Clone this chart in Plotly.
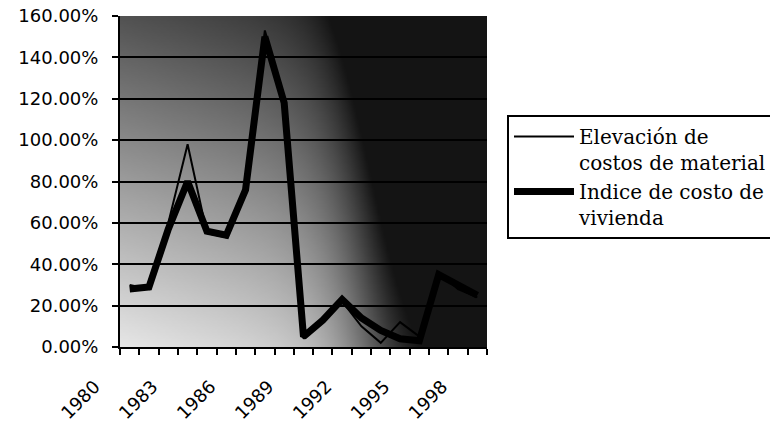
import base64
import math
import struct
import zlib

import plotly.graph_objects as go

# ---------------- data ----------------
years = list(range(1980, 1999))
tick_years = [1980, 1983, 1986, 1989, 1992, 1995, 1998]
tick_labels = [str(y) for y in tick_years]
series_names = ["Elevación de<br>costos de material", "Indice de costo de<br>vivienda"]
material = [30, 28, 60, 98, 55, 53, 78, 153, 120, 4, 14, 22, 10, 2, 12, 5, 36, 28, 24]
vivienda = [28, 29, 57, 80, 56, 54, 76, 150, 118, 5, 13, 23, 14, 8, 4, 3, 35, 30, 25]
y_ticks = [0, 20, 40, 60, 80, 100, 120, 140, 160]
y_tick_labels = ["0.00%", "20.00%", "40.00%", "60.00%", "80.00%",
                 "100.00%", "120.00%", "140.00%", "160.00%"]


# ---------------- background gradient (styling only) ----------------
def gradient_png(w, h):
    rows = []
    for r in range(h):
        yf = 1 - r / (h - 1)
        row = bytearray()
        for c in range(w):
            xf = c / (w - 1)
            dx = 0.9 / (1 + math.exp(-(xf - 0.68) / 0.07))
            d = min(1.0, max(0.0, 0.7 * yf + 0.25 * xf + dx))
            row.append(int(230 - 210 * d))
        rows.append(row)
    raw = b"".join(b"\x00" + bytes(rw) for rw in rows)

    def chunk(t, d):
        c = struct.pack(">I", len(d)) + t + d
        return c + struct.pack(">I", zlib.crc32(t + d) & 0xFFFFFFFF)

    png = b"\x89PNG\r\n\x1a\n"
    png += chunk(b"IHDR", struct.pack(">IIBBBBB", w, h, 8, 0, 0, 0, 0))
    png += chunk(b"IDAT", zlib.compress(raw))
    png += chunk(b"IEND", b"")
    return "data:image/png;base64," + base64.b64encode(png).decode()


bg = gradient_png(120, 110)

fig = go.Figure()
fig.add_trace(go.Scatter(x=years, y=material, mode="lines", name=series_names[0],
                         line=dict(color="black", width=2)))
fig.add_trace(go.Scatter(x=years, y=vivienda, mode="lines", name=series_names[1],
                         line=dict(color="black", width=7)))

fig.update_layout(
    width=770, height=428,
    margin=dict(l=120, r=283, t=16, b=81, autoexpand=False),
    paper_bgcolor="white",
    plot_bgcolor="rgba(0,0,0,0)",
    images=[dict(source=bg, xref="paper", yref="paper", x=0, y=1, sizex=1, sizey=1,
                 sizing="stretch", layer="below", xanchor="left", yanchor="top")],
    showlegend=True,
    legend=dict(
        xref="container", yref="container",
        x=507 / 770, y=1 - 115 / 428, xanchor="left", yanchor="top",
        bordercolor="black", borderwidth=2, bgcolor="white",
        font=dict(family="DejaVu Serif", size=20, color="black"),
        itemwidth=60, valign="top", tracegroupgap=10,
    ),
    xaxis=dict(
        range=[1979.5, 1998.5],
        tickmode="array", tickvals=tick_years, ticktext=tick_labels,
        ticks="", tickangle=-45, automargin=False,
        tickfont=dict(family="DejaVu Sans", size=18, color="black"),
        showgrid=False, zeroline=False,
        showline=True, linecolor="black", linewidth=2,
        ticklabelshift=-35, ticklabelstandoff=20,
        minor=dict(tickmode="linear", tick0=1979.5, dtick=1, ticks="outside",
                   ticklen=6, tickwidth=2, tickcolor="black", showgrid=False),
    ),
    yaxis=dict(
        range=[0, 160], automargin=False,
        tickmode="array", tickvals=y_ticks, ticktext=y_tick_labels,
        ticks="outside", ticklen=6, tickwidth=2, tickcolor="black",
        tickfont=dict(family="DejaVu Sans", size=18, color="black"),
        showgrid=True, gridcolor="black", gridwidth=2,
        zeroline=False,
        showline=True, linecolor="black", linewidth=2,
        ticklabelstandoff=10,
    ),
)

fig.write_html("out.html")
